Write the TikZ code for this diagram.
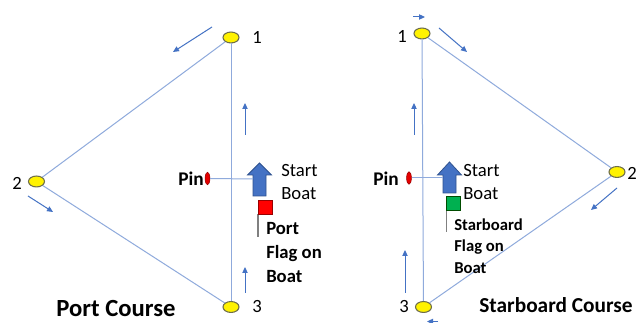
\documentclass[tikz,border=0pt]{standalone}
\usepackage{fontspec}
\setmainfont{Carlito}
\usetikzlibrary{arrows.meta,shapes.geometric}
\definecolor{course}{HTML}{8FAADC}
\definecolor{flowc}{HTML}{4472C4}
\definecolor{boatline}{HTML}{2F528F}
\definecolor{markline}{HTML}{6E6E4A}
\definecolor{flagred}{HTML}{FF0000}
\definecolor{flaggreen}{HTML}{00B050}
\tikzset{
  buoy/.style={ellipse, draw=markline, fill=yellow, line width=0.8pt, minimum width=12pt, minimum height=8.2pt, inner sep=0pt},
  pinmark/.style={ellipse, draw=red!60!black, fill=red!90!black, line width=0.4pt, minimum width=3.6pt, minimum height=9.5pt, inner sep=0pt},
  leg/.style={draw=course, line width=0.75pt},
  flow/.style={draw=flowc, line width=0.75pt, -{Triangle[length=4.5pt,width=4pt]}},
  num/.style={font=\fontsize{14pt}{16pt}\selectfont, inner sep=0pt},
  pintext/.style={font=\fontsize{14.5pt}{16pt}\selectfont\bfseries, inner sep=0pt},
  boattext/.style={font=\fontsize{14pt}{17pt}\selectfont, align=left, inner sep=0pt},
  flagtext/.style={font=\fontsize{14pt}{18pt}\selectfont\bfseries, align=left, inner sep=0pt},
  sflagtext/.style={font=\fontsize{12.5pt}{16pt}\selectfont\bfseries, align=left, inner sep=0pt},
  title/.style={font=\fontsize{18.5pt}{20pt}\selectfont\bfseries, inner sep=0pt},
  stitle/.style={font=\fontsize{16pt}{18pt}\selectfont\bfseries, inner sep=0pt},
  boatarrow/.style={fill=flowc, draw=boatline, line width=0.6pt, line join=miter},
  pole/.style={draw=gray, line width=0.9pt},
}
\begin{document}
\begin{tikzpicture}[x=0.75pt, y=-0.75pt]
\useasboundingbox (0,0) rectangle (637,323);
\fill[white] (0,0) rectangle (637,323);

% ================= PORT COURSE (left) =================
\node[buoy] (p1) at (231,37.5) {};
\node[buoy] (p2) at (36.5,181.5) {};
\node[buoy] (p3) at (231,307) {};
\draw[leg] (p1) -- (p2);
\draw[leg] (p2) -- (p3);
\draw[leg] (p1) -- (p3);
\node[num] (p1l) at (257,37) {1};
\node[num] (p2l) at (17,183) {2};
\node[num] (p3l) at (257,307) {3};

% flow arrows
\draw[flow] (212,27) -- (173,52);
\draw[flow] (28,196) -- (53,212);
\draw[flow] (245,135) -- (245,103);
\draw[flow] (245,293) -- (245,267);

% pin and start boat
\node[pinmark] (ppin) at (207.5,178.5) {};
\node[pintext, anchor=east] (ppint) at (204,179) {Pin};
\coordinate (pboat) at (253,179);
\draw[boatarrow] (253,196) -- (253,175) -- (247.5,175) -- (259.5,163) -- (271.5,175) -- (266,175) -- (266,196) -- cycle;
\draw[leg] (ppin.east) -- (pboat);
\node[boattext, anchor=west] (pboatt) at (281,182) {Start\\Boat};
% red flag
\draw[pole] (258,214) -- (258,237);
\draw[fill=flagred, draw=red!60!black, line width=0.4pt] (258,200) rectangle (272,214);
\node[flagtext, anchor=west] (pflagt) at (266,253) {Port\\Flag on\\Boat};
\node[title] (ptitle) at (116,309) {Port Course};

% ================= STARBOARD COURSE (right) =================
\node[buoy] (s1) at (422,33.5) {};
\node[buoy] (s2) at (617,172) {};
\node[buoy] (s3) at (423.5,307) {};
\draw[leg] (s1) -- (s2);
\draw[leg] (s2) -- (s3);
\draw[leg] (s1) -- (s3);
\node[num] (s1l) at (402,36) {1};
\node[num, anchor=west] (s2l) at (627,173) {2};
\node[num] (s3l) at (404,307) {3};

% flow arrows
\draw[flow] (413,17) -- (425,17);
\draw[flow] (439,28) -- (467,52);
\draw[flow] (617,188) -- (591,210);
\draw[flow] (414,135) -- (414,103);
\draw[flow] (405,293) -- (405,250);
\draw[flow] (438,321.5) -- (427,321.5);

% pin and start boat
\node[pinmark] (spin) at (409,178) {};
\node[pintext, anchor=east] (spint) at (399,178.5) {Pin};
\coordinate (sboat) at (443,178);
\draw[boatarrow] (443,193) -- (443,175) -- (437.5,175) -- (449.5,162) -- (461.5,175) -- (456,175) -- (456,193) -- cycle;
\draw[leg] (spin.east) -- (sboat);
\node[boattext, anchor=west] (sboatt) at (463,182) {Start\\Boat};
% green flag
\draw[pole] (446.5,210) -- (446.5,232);
\draw[fill=flaggreen, draw=green!30!black, line width=0.4pt] (446,196) rectangle (460,210);
\node[sflagtext, anchor=west] (sflagt) at (454,246) {Starboard\\Flag on\\Boat};
\node[stitle] (stitle) at (556,305) {Starboard Course};
\end{tikzpicture}
\end{document}
